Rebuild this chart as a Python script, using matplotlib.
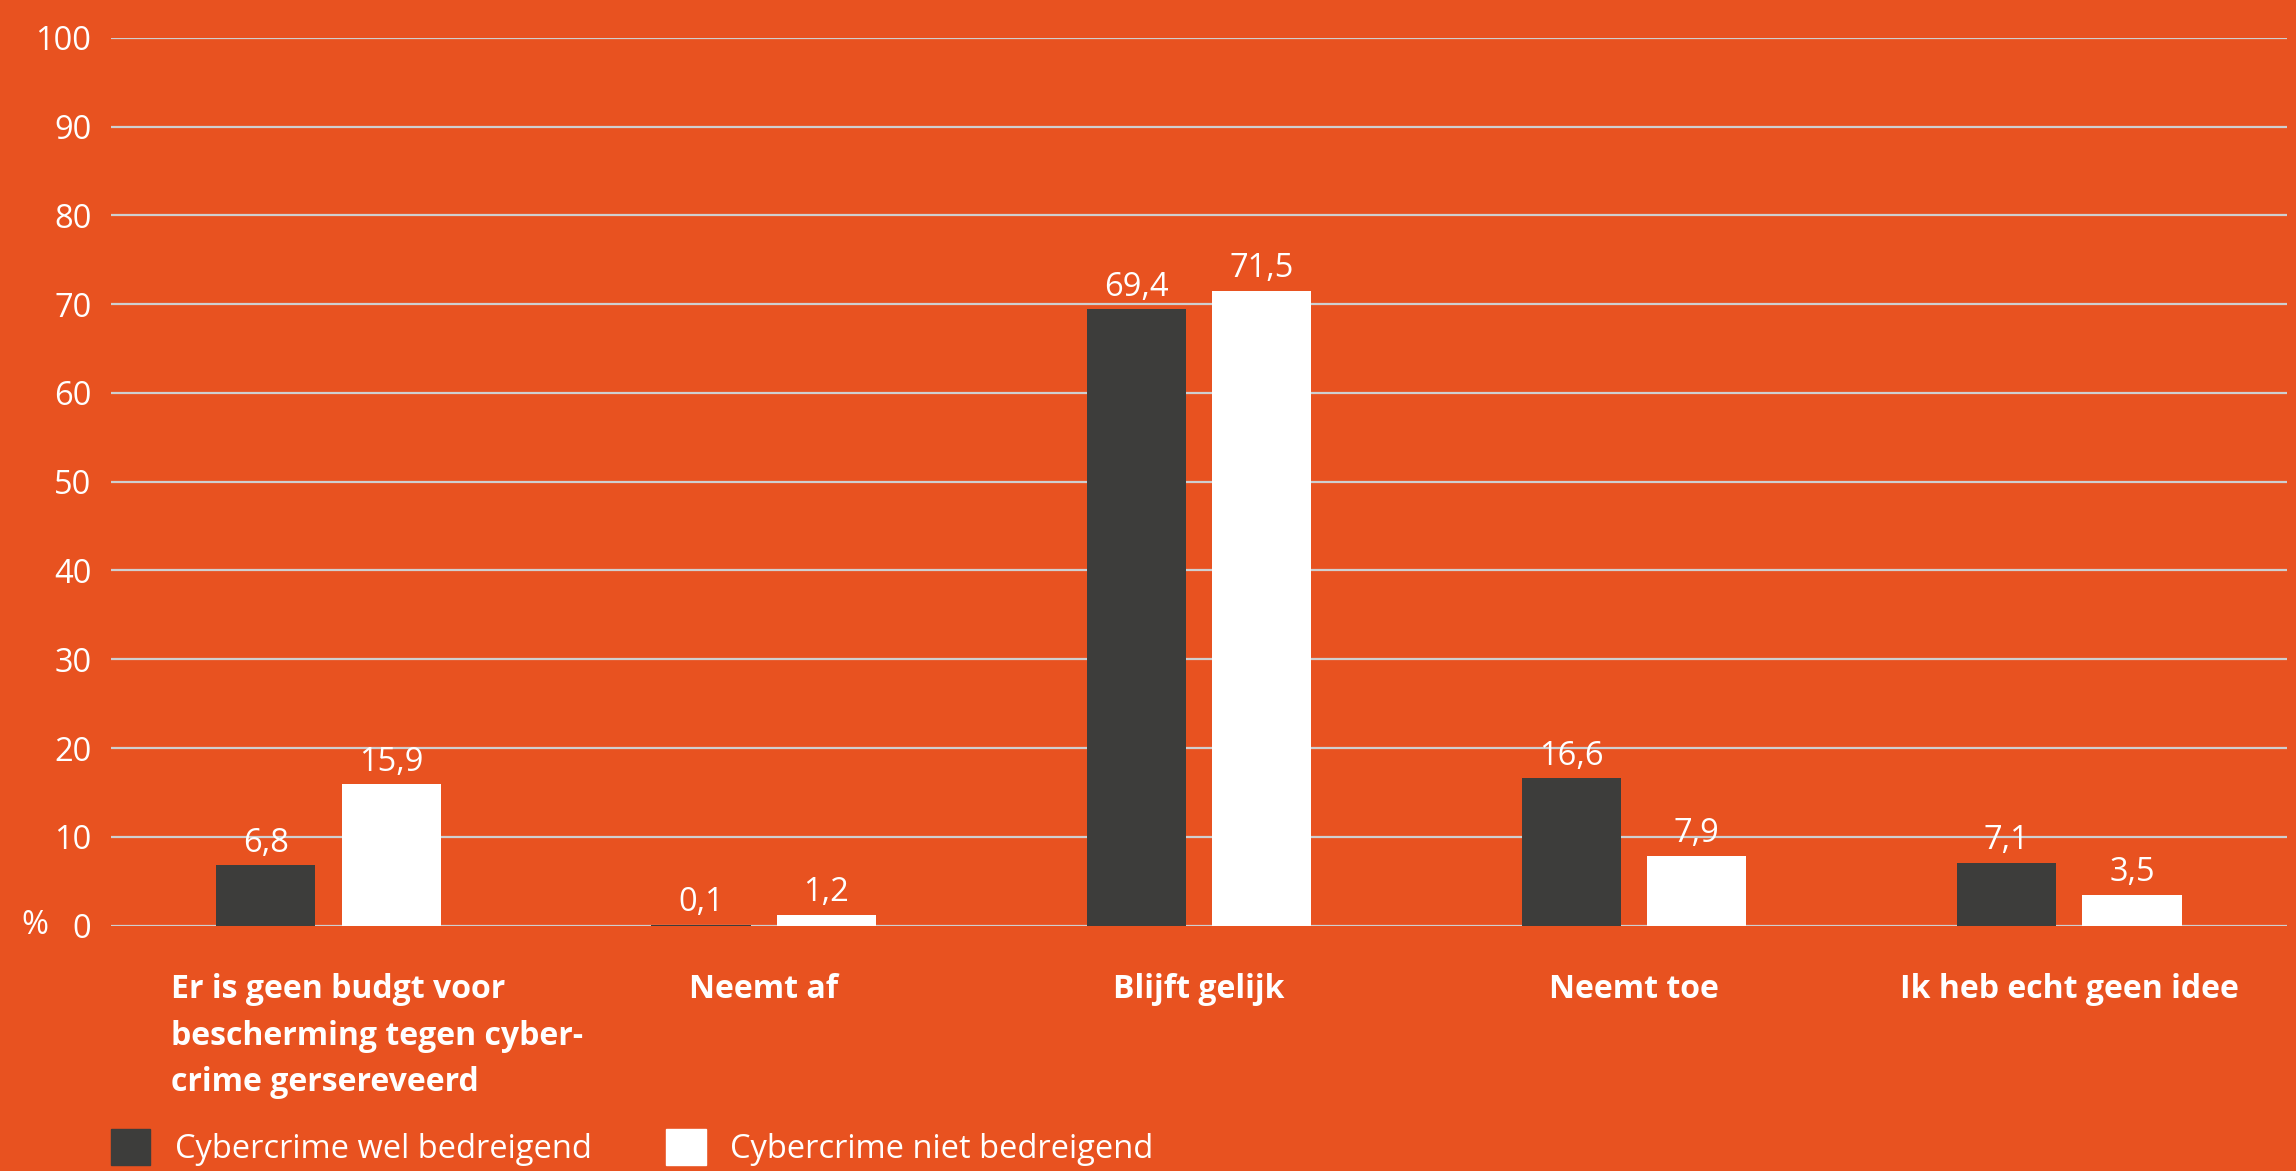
import numpy as np
import matplotlib
matplotlib.use("Agg")
import matplotlib.pyplot as plt
import matplotlib.transforms as mtransforms
from matplotlib.patches import Patch

categories = ["Er is geen budgt voor\nbescherming tegen cyber-\ncrime gersereveerd",
              "Neemt af", "Blijft gelijk", "Neemt toe", "Ik heb echt geen idee"]
wel = [6.8, 0.1, 69.4, 16.6, 7.1]
niet = [15.9, 1.2, 71.5, 7.9, 3.5]
series_names = ["Cybercrime wel bedreigend", "Cybercrime niet bedreigend"]
yticks = [0, 10, 20, 30, 40, 50, 60, 70, 80, 90, 100]

bg = "#E85220"
dark = "#3D3D3B"
plt.rcParams["font.family"] = ["Open Sans", "DejaVu Sans"]

fig = plt.figure(figsize=(22.96, 11.71), dpi=100, facecolor=bg)
ax = fig.add_axes([0.0483, 0.2095, 0.9477, 0.7583])
ax.set_facecolor(bg)

x = np.arange(len(categories))
w = 0.228
off = 0.144
b1 = ax.bar(x - off, wel, w, color=dark, zorder=3)
b2 = ax.bar(x + off, niet, w, color="white", zorder=3)

fmt = lambda v: ("%.1f" % v).replace(".", ",")
ax.bar_label(b1, labels=[fmt(v) for v in wel], padding=4, color="white", fontsize=23.5)
ax.bar_label(b2, labels=[fmt(v) for v in niet], padding=4, color="white", fontsize=23.5)

ax.set_xlim(-0.5, len(categories) - 0.5)
ax.set_ylim(0, 100)
ax.set_yticks(yticks)
ax.set_yticklabels([str(t) for t in yticks])
ax.yaxis.grid(True, color="#CFCFCF", linewidth=1.6, zorder=0)
ax.set_axisbelow(True)
for s in ax.spines.values():
    s.set_visible(False)
ax.tick_params(axis="y", length=0, pad=14, labelsize=23.5, labelcolor="white")
ax.set_xticks(x)
ax.set_xticklabels(categories, fontsize=23, fontweight="bold", color="white", linespacing=1.55)
ax.tick_params(axis="x", length=0, pad=34)

# first category label is a left aligned block
lab0 = ax.get_xticklabels()[0]
lab0.set_horizontalalignment("left")
lab0.set_multialignment("left")
lab0.set_transform(lab0.get_transform() + mtransforms.ScaledTranslation(-157 / 100, 0, fig.dpi_scale_trans))

ax.text(-0.041, 0, "%", transform=ax.get_yaxis_transform(), ha="left", va="center",
        color="white", fontsize=23.5)

handles = [Patch(color=dark), Patch(color="white")]
fig.legend(handles, series_names, loc="lower left", bbox_to_anchor=(0.0355, -0.021),
           ncol=2, frameon=False, fontsize=23.5, labelcolor="white",
           handlelength=1.2, handleheight=1.3, handletextpad=0.75, columnspacing=2.3)

fig.savefig("out.png", dpi=100, facecolor=bg)
